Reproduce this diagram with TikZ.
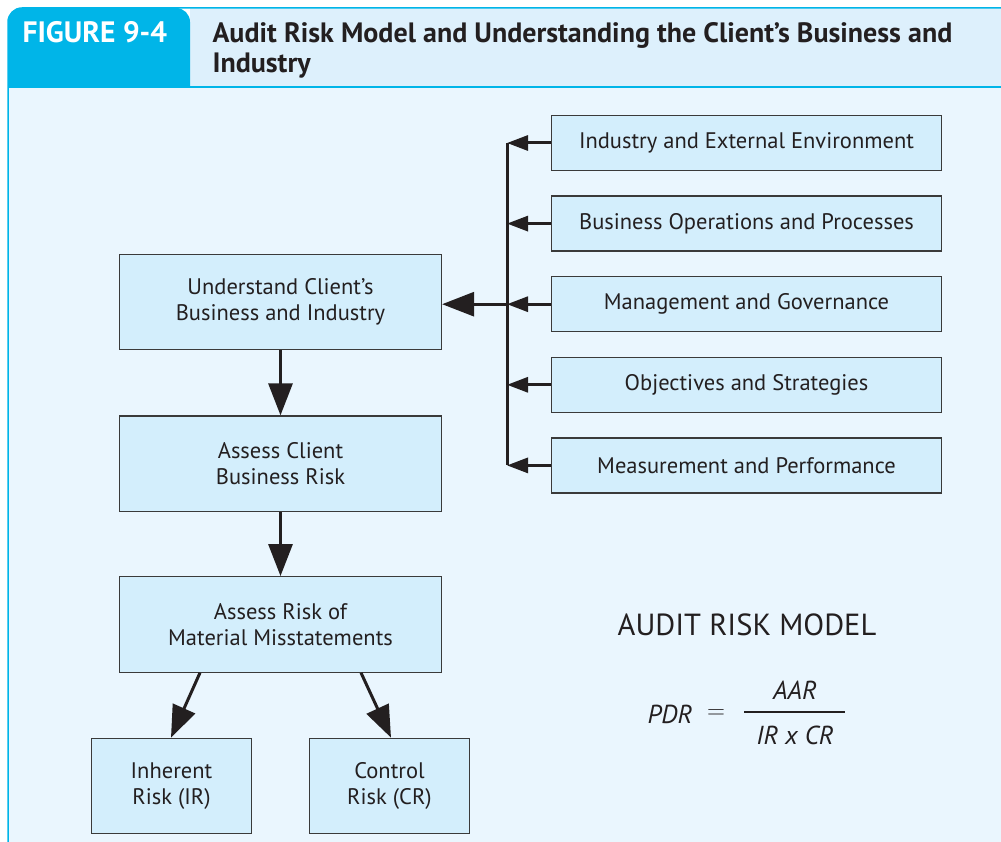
\documentclass[tikz,border=0pt]{standalone}
\usepackage{fontspec}
\setmainfont{PT Sans}
\usetikzlibrary{arrows.meta,positioning}
\definecolor{figcyan}{HTML}{00B5E8}
\definecolor{headlight}{HTML}{DDF0FC}
\definecolor{bodylight}{HTML}{EAF6FE}
\definecolor{boxfill}{HTML}{D3EEFC}
\definecolor{boxline}{HTML}{3A3A3A}
\definecolor{inkblack}{HTML}{231F20}
\tikzset{
  riskbox/.style = {
    rectangle,
    draw=boxline,
    fill=boxfill,
    line width=1.2pt,
    align=center,
    text=inkblack,
    font=\fontsize{22.5}{26}\selectfont,
    minimum width=322pt,
    minimum height=95.5pt
  },
  sidebox/.style = {
    riskbox,
    minimum width=390pt,
    minimum height=55pt
  },
  leafbox/.style = {
    riskbox,
    minimum width=160pt
  },
  bigarrow/.style = {
    -{Triangle[length=32pt,width=24pt]},
    line width=3pt,
    draw=inkblack
  },
  smallarrow/.style = {
    -{Triangle[length=21pt,width=15pt]},
    line width=3pt,
    draw=inkblack
  }
}
\begin{document}
\begin{tikzpicture}[x=1pt,y=-1pt]
    \useasboundingbox (0,0) rectangle (1001,842);
    % frame
    \fill[bodylight] (8,87) rectangle (1010,850);
    \fill[headlight] (190,8) rectangle (1010,87);
    \fill[figcyan, rounded corners=14pt] (8,87) -- (8,8) -- (190,8) [sharp corners] -- (190,87) -- cycle;
    \draw[figcyan, line width=1.5pt, rounded corners=14pt] (8,850) -- (8,8) -- (1010,8);
    \draw[figcyan, line width=1.5pt] (8,87) -- (1010,87);
    \node[anchor=base west, text=white, font=\fontsize{29.5}{32}\selectfont\bfseries] (fignum) at (19,43) {FIGURE 9-4};
    \node[anchor=north west, text=inkblack, align=left, font=\fontsize{28}{30}\selectfont\bfseries] (figtitle) at (209,19)
      {Audit Risk Model and Understanding the Client’s Business and\\Industry};
    % left column
    \node[riskbox] (understand) at (280.5,302) {Understand Client’s\\Business and Industry};
    \node[riskbox, below=65pt of understand] (assessbiz) {Assess Client\\Business Risk};
    \node[riskbox, below=64pt of assessbiz] (assessrmm) {Assess Risk of\\Material Misstatements};
    \node[leafbox] (inherent) at (171.5,786) {Inherent\\Risk (IR)};
    \node[leafbox] (control) at (389.5,786) {Control\\Risk (CR)};
    % right column
    \node[sidebox] (industry) at (746.5,143) {Industry and External Environment};
    \node[sidebox, below=24.4pt of industry] (operations) {Business Operations and Processes};
    \node[sidebox, below=24.4pt of operations] (governance) {Management and Governance};
    \node[sidebox, below=24.4pt of governance] (strategies) {Objectives and Strategies};
    \node[sidebox, below=24.4pt of strategies] (performance) {Measurement and Performance};
    \coordinate (bus) at (507,304);
    % connectors
    \draw[inkblack, line width=3pt] (bus |- industry) -- (bus |- performance);
    \foreach \src in {industry,operations,governance,strategies,performance}
      \draw[smallarrow] (\src.west) -- (bus |- \src);
    \draw[bigarrow] (bus |- governance) -- (understand.east |- governance);
    \draw[bigarrow] (understand) -- (assessbiz);
    \draw[bigarrow] (assessbiz) -- (assessrmm);
    \draw[bigarrow] (assessrmm.south -| 200,0) -- (inherent.north -| 171,0);
    \draw[bigarrow] (assessrmm.south -| 361,0) -- (control.north -| 391,0);
    % model
    \node[text=inkblack, font=\fontsize{30.5}{32}\selectfont] (modeltitle) at (747,625) {AUDIT RISK MODEL};
    \node[text=inkblack, font=\fontsize{26}{28}\selectfont\itshape] (pdr) at (670,714) {PDR};
    \node[text=inkblack, font=\fontsize{26}{28}\selectfont] (equals) at (716,714) {$=$};
    \node[text=inkblack, font=\fontsize{26}{28}\selectfont\itshape] (aar) at (795,690) {AAR};
    \node[text=inkblack, font=\fontsize{26}{28}\selectfont\itshape] (ircr) at (795,735) {IR x CR};
    \draw[inkblack, line width=1.5pt] (744,712) -- (845,712);
\end{tikzpicture}
\end{document}
